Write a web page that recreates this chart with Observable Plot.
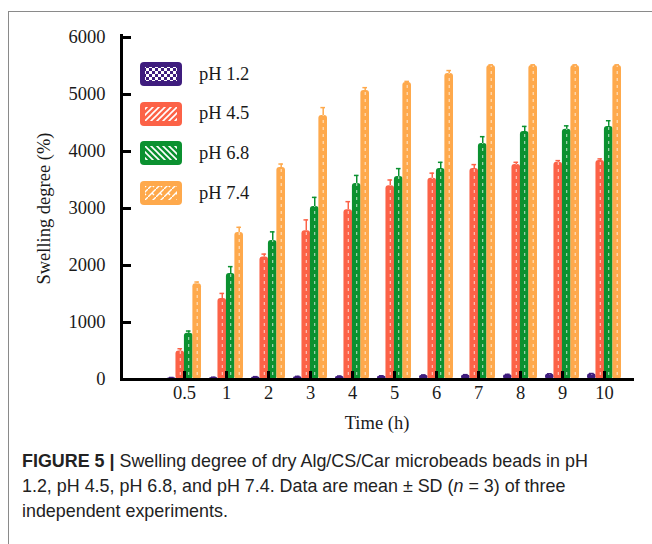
<!DOCTYPE html>
<html>
<head>
<meta charset="utf-8">
<script src="https://cdn.jsdelivr.net/npm/d3@7"></script>
<script src="https://cdn.jsdelivr.net/npm/@observablehq/plot@0.6"></script>
<style>
  html, body { margin: 0; padding: 0; background: #fff; width: 652px; height: 544px; overflow: hidden; }
  #wrap { position: relative; width: 652px; height: 544px; }
  #frameTop { position: absolute; left: 8px; top: 11px; width: 644px; height: 1px; background: #8a8a8a; }
  #frameLeft { position: absolute; left: 8px; top: 11px; width: 1px; height: 533px; background: #8a8a8a; }
  #chart { position: absolute; left: 0; top: 0; }
  #legend { position: absolute; left: 140px; top: 62px; font-family: "Liberation Serif", serif; font-size: 18.5px; color: #1a1a1a; }
  .row { display: flex; align-items: center; height: 24px; margin-bottom: 15.7px; }
  .row svg { display: block; margin-right: 17px; }
  #caption { position: absolute; left: 22px; top: 449px; width: 628px; font-family: "Liberation Sans", Arial, sans-serif; font-size: 17.9px; line-height: 25px; color: #222; white-space: nowrap; }
  #caption b { font-weight: bold; }
</style>
</head>
<body>
<div id="wrap">
  <div id="frameTop"></div>
  <div id="frameLeft"></div>
  <div id="chart"></div>
  <div id="legend"></div>
  <div id="caption"><b>FIGURE 5 |</b> Swelling degree of dry Alg/CS/Car microbeads beads in pH<br>1.2, pH 4.5, pH 6.8, and pH 7.4. Data are mean ± SD (<i>n</i> = 3) of three<br>independent experiments.</div>
</div>
<script>
// ---- data ----
const times = ["0.5", "1", "2", "3", "4", "5", "6", "7", "8", "9", "10"];
const series = ["pH 1.2", "pH 4.5", "pH 6.8", "pH 7.4"];
const colors = ["#3f1d7e", "#fc6247", "#0b9130", "#fea94c"];
const ph12 = [30, 35, 45, 50, 55, 60, 75, 80, 85, 95, 100];
const ph45 = [500, 1420, 2150, 2610, 2980, 3400, 3530, 3700, 3770, 3810, 3840];
const ph68 = [810, 1860, 2440, 3035, 3440, 3560, 3700, 4140, 4350, 4390, 4440];
const ph74 = [1680, 2580, 3720, 4630, 5070, 5210, 5370, 5510, 5510, 5510, 5510];
const sd12 = [5, 5, 5, 5, 5, 5, 5, 5, 5, 5, 5];
const sd45 = [40, 90, 50, 190, 140, 100, 90, 70, 40, 30, 30];
const sd68 = [40, 120, 150, 160, 140, 140, 110, 120, 90, 60, 100];
const sd74 = [30, 90, 60, 140, 50, 20, 50, 10, 10, 10, 10];
const yTicks = [0, 1000, 2000, 3000, 4000, 5000, 6000];

const valueSets = [ph12, ph45, ph68, ph74];
const sdSets = [sd12, sd45, sd68, sd74];
const perSeries = series.map((s, j) => times.map((t, i) => ({time: t, series: s, value: valueSets[j][i], sd: sdSets[j][i]})));

// ---- layout ----
const W = 652, H = 440, mL = 121, mR = 20, mT = 37, mB = 61;
const padIn = 0.2, padOut = 0.64, align = 0.795;
const step = (W - mL - mR) / (times.length - padIn + 2 * padOut);
const bandwidth = step * (1 - padIn);
const w = bandwidth / series.length;   // width of one bar within a group

const marks = [];
series.forEach((s, j) => {
  const d = perSeries[j];
  const c = colors[j];
  const off = (j + 0.5) * w - bandwidth / 2;
  marks.push(
    Plot.barY(d, {x: "time", y: "value", fill: c, rx: 3, insetLeft: j * w, insetRight: (series.length - 1 - j) * w}),
    Plot.ruleX(d, {x: "time", y1: 0, y2: "value", dx: off, stroke: "white", strokeOpacity: 0.75, strokeWidth: 1, strokeDasharray: "3,4", insetTop: 3}),
    Plot.ruleX(d, {x: "time", y1: "value", y2: r => r.value + r.sd, dx: off, stroke: c, strokeWidth: 1.5}),
    Plot.tickY(d, {x: "time", y: r => r.value + r.sd, stroke: c, strokeWidth: 1.5, insetLeft: j * w + 2, insetRight: (series.length - 1 - j) * w + 2})
  );
});

const chart = Plot.plot({
  width: W,
  height: H,
  marginLeft: mL,
  marginRight: mR,
  marginTop: mT,
  marginBottom: mB,
  style: {fontFamily: "Liberation Serif, serif", fontSize: "18.5px", color: "#1a1a1a", background: "transparent"},
  x: {domain: times, paddingInner: padIn, paddingOuter: padOut, align: align},
  y: {domain: [0, 6000]},
  marks: [
    ...marks,
    Plot.frame({anchor: "bottom", stroke: "#000", strokeWidth: 3}),
    Plot.frame({anchor: "left", stroke: "#000", strokeWidth: 3, insetTop: -2}),
    Plot.axisY({ticks: yTicks, tickSize: -10, tickPadding: 26, strokeWidth: 3, stroke: "#000", tickFormat: d3.format("d"),
      label: "Swelling degree (%)", labelAnchor: "center", labelArrow: false, labelOffset: 85}),
    Plot.axisX({anchor: "bottom", tickSize: -8, tickPadding: 14, strokeWidth: 3, stroke: "#000",
      label: "Time (h)", labelAnchor: "center", labelArrow: false, labelOffset: 49})
  ]
});
document.getElementById("chart").appendChild(chart);

// ---- legend ----
const legend = document.getElementById("legend");
const patterns = [
  '<rect width="6" height="6" fill="C"/><rect width="3" height="3" fill="#fff"/><rect x="3" y="3" width="3" height="3" fill="#fff"/>',
  '<rect width="6" height="6" fill="C"/><path d="M-1,7 L7,-1 M-1,1 L1,-1 M5,7 L7,5" stroke="#fff" stroke-width="1.6"/>',
  '<rect width="6" height="6" fill="C"/><path d="M-1,-1 L7,7 M-1,5 L1,7 M5,-1 L7,1" stroke="#fff" stroke-width="1.6"/>',
  '<rect width="8" height="8" fill="C"/><path d="M0,8 L4,4 L6,6 M4,4 L8,0" stroke="#fff" stroke-width="1.4" fill="none"/>'
];
series.forEach((s, j) => {
  const row = document.createElement("div");
  row.className = "row";
  const c = colors[j];
  const size = j === 3 ? 8 : 6;
  row.innerHTML = `<svg width="42" height="24"><defs><pattern id="pat${j}" width="${size}" height="${size}" patternUnits="userSpaceOnUse">${patterns[j].replace(/C/g, c)}</pattern></defs>
    <rect x="0" y="0" width="42" height="24" rx="4" fill="${c}"/>
    <rect x="5" y="5" width="32" height="14" fill="url(#pat${j})"/></svg><span>${s}</span>`;
  legend.appendChild(row);
});
</script>
</body>
</html>
